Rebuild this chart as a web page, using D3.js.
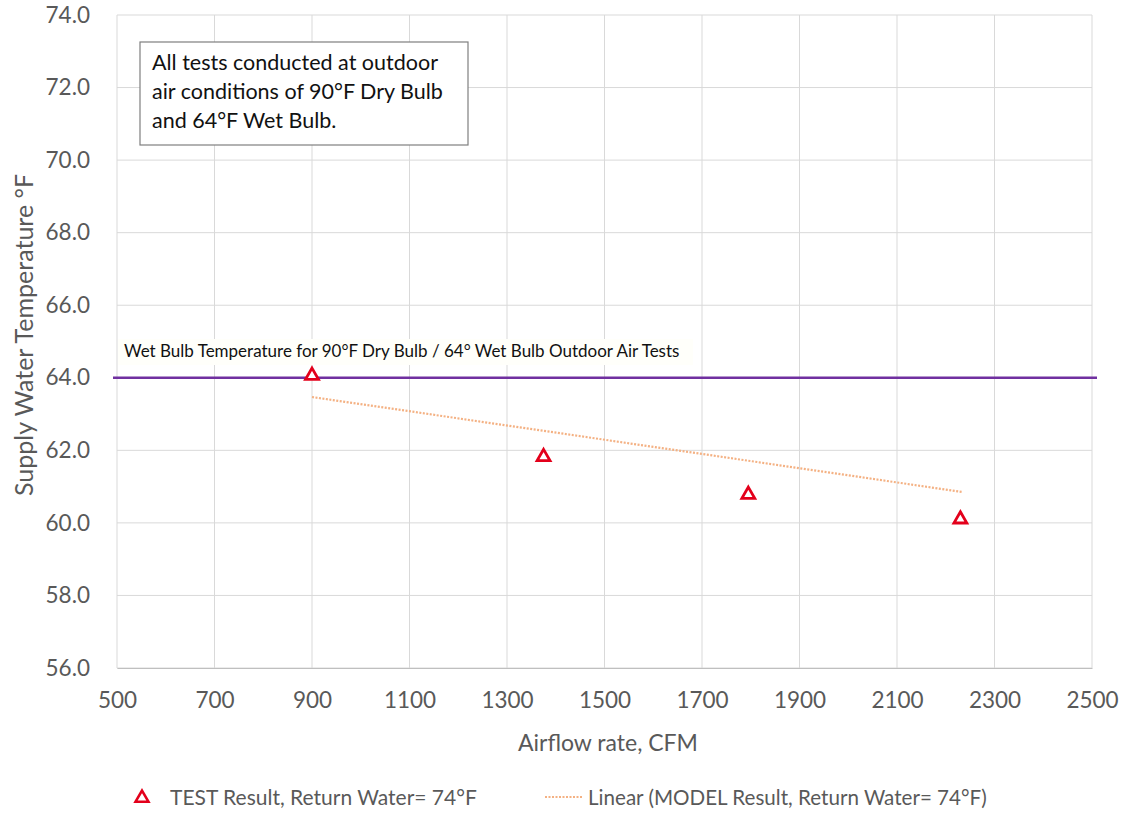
<!DOCTYPE html>
<html>
<head>
<meta charset="utf-8">
<script src="https://cdn.jsdelivr.net/npm/d3@7"></script>
<style>
  html, body { margin: 0; padding: 0; background: #fff; }
  svg { display: block; font-family: Lato, "Open Sans", sans-serif; }
</style>
</head>
<body>
<svg id="chart" width="1123" height="814"></svg>
<script>
// Measured test points: airflow (CFM) vs supply water temperature (°F)
const testAirflow = [900, 1375, 1795, 2230];
const testSupplyTemp = [64.06, 61.82, 60.78, 60.1];

// Linear model trend line endpoints
const modelAirflow = [900, 2235];
const modelSupplyTemp = [63.47, 60.85];

// Outdoor wet bulb reference temperature
const wetBulbTemp = 64.0;

// Axis ticks
const xTicks = [500, 700, 900, 1100, 1300, 1500, 1700, 1900, 2100, 2300, 2500];
const yTicks = [56, 58, 60, 62, 64, 66, 68, 70, 72, 74];

const noteLines = [
  "All tests conducted  at outdoor",
  "air conditions of 90°F Dry Bulb",
  "and 64°F Wet Bulb."
];
const wetBulbLabel = "Wet Bulb Temperature for 90°F Dry Bulb / 64° Wet Bulb Outdoor Air Tests";
const legendLabels = ["TEST Result, Return Water= 74°F", "Linear (MODEL Result, Return Water= 74°F)"];

const svg = d3.select("#chart");
const margin = { left: 117, right: 1092, top: 15, bottom: 668 };

const x = d3.scaleLinear().domain([500, 2500]).range([margin.left, margin.right]);
const y = d3.scaleLinear().domain([56, 74]).range([margin.bottom, margin.top]);

const gridColor = "#d9d9d9";
const textColor = "#595959";

// Gridlines
svg.append("g").selectAll("line").data(xTicks).join("line")
  .attr("x1", d => x(d)).attr("x2", d => x(d))
  .attr("y1", y(74)).attr("y2", y(56))
  .attr("stroke", gridColor).attr("stroke-width", 1);
svg.append("g").selectAll("line").data(yTicks).join("line")
  .attr("x1", x(500)).attr("x2", x(2500))
  .attr("y1", d => y(d)).attr("y2", d => y(d))
  .attr("stroke", gridColor).attr("stroke-width", 1);

// Axes (labels only; lines come from the grid)
const xAxis = svg.append("g")
  .attr("transform", `translate(0,${y(56)})`)
  .call(d3.axisBottom(x).tickValues(xTicks).tickSize(0).tickPadding(24).tickFormat(d3.format("d")));
xAxis.select(".domain").attr("stroke", "#bfbfbf");
xAxis.selectAll("text").attr("fill", textColor).attr("font-size", 22.5).attr("font-family", "Lato, sans-serif");

const yAxis = svg.append("g")
  .attr("transform", `translate(${x(500)},0)`)
  .call(d3.axisLeft(y).tickValues(yTicks).tickSize(0).tickPadding(27).tickFormat(d3.format(".1f")));
yAxis.select(".domain").remove();
yAxis.selectAll("text").attr("fill", textColor).attr("font-size", 22.5).attr("font-family", "Lato, sans-serif");

// Axis titles
svg.append("text")
  .attr("x", 608).attr("y", 751)
  .attr("text-anchor", "middle")
  .attr("fill", textColor).attr("font-size", 23)
  .text("Airflow rate, CFM");
svg.append("text")
  .attr("transform", `translate(33,335) rotate(-90)`)
  .attr("text-anchor", "middle")
  .attr("fill", textColor).attr("font-size", 25)
  .text("Supply Water Temperature °F");

// Wet bulb reference line
svg.append("line")
  .attr("x1", x(500) - 4).attr("x2", x(2500) + 5)
  .attr("y1", y(wetBulbTemp)).attr("y2", y(wetBulbTemp))
  .attr("stroke", "#7030a0").attr("stroke-width", 2.5);

svg.append("rect")
  .attr("x", 118).attr("y", 339).attr("width", 575).attr("height", 26)
  .attr("fill", "#fffffa");
svg.append("text")
  .attr("x", 124).attr("y", 357)
  .attr("fill", "#111").attr("font-size", 17)
  .text(wetBulbLabel);

// Model trend line
svg.append("line")
  .attr("x1", x(modelAirflow[0])).attr("x2", x(modelAirflow[1]))
  .attr("y1", y(modelSupplyTemp[0])).attr("y2", y(modelSupplyTemp[1]))
  .attr("stroke", "#f4b183").attr("stroke-width", 2.2)
  .attr("stroke-dasharray", "2,1.5");

// Test points as hollow triangles
const tri = d3.symbol().type(d3.symbolTriangle).size(72);
svg.append("g").selectAll("path").data(testAirflow).join("path")
  .attr("d", tri)
  .attr("transform", (d, i) => `translate(${x(d)},${y(testSupplyTemp[i])})`)
  .attr("fill", "#fff").attr("stroke", "#e3001b").attr("stroke-width", 2.8);

// Note box
const note = svg.append("g").attr("transform", "translate(140,42)");
note.append("rect")
  .attr("width", 328).attr("height", 103)
  .attr("fill", "#fff").attr("stroke", "#7f7f7f").attr("stroke-width", 1.2);
note.selectAll("text").data(noteLines).join("text")
  .attr("x", 12).attr("y", (d, i) => 28 + i * 29)
  .attr("fill", "#111").attr("font-size", 21.5)
  .text(d => d);

// Legend
const legend = svg.append("g");
legend.append("path")
  .attr("d", tri)
  .attr("transform", "translate(142,798)")
  .attr("fill", "#fff").attr("stroke", "#e3001b").attr("stroke-width", 2.6);
legend.append("text")
  .attr("x", 170).attr("y", 805)
  .attr("fill", textColor).attr("font-size", 21)
  .text(legendLabels[0]);
legend.append("line")
  .attr("x1", 545).attr("x2", 583).attr("y1", 797).attr("y2", 797)
  .attr("stroke", "#f4b183").attr("stroke-width", 2)
  .attr("stroke-dasharray", "2,1.5");
legend.append("text")
  .attr("x", 588).attr("y", 805)
  .attr("fill", textColor).attr("font-size", 20.6)
  .text(legendLabels[1]);
</script>
</body>
</html>
